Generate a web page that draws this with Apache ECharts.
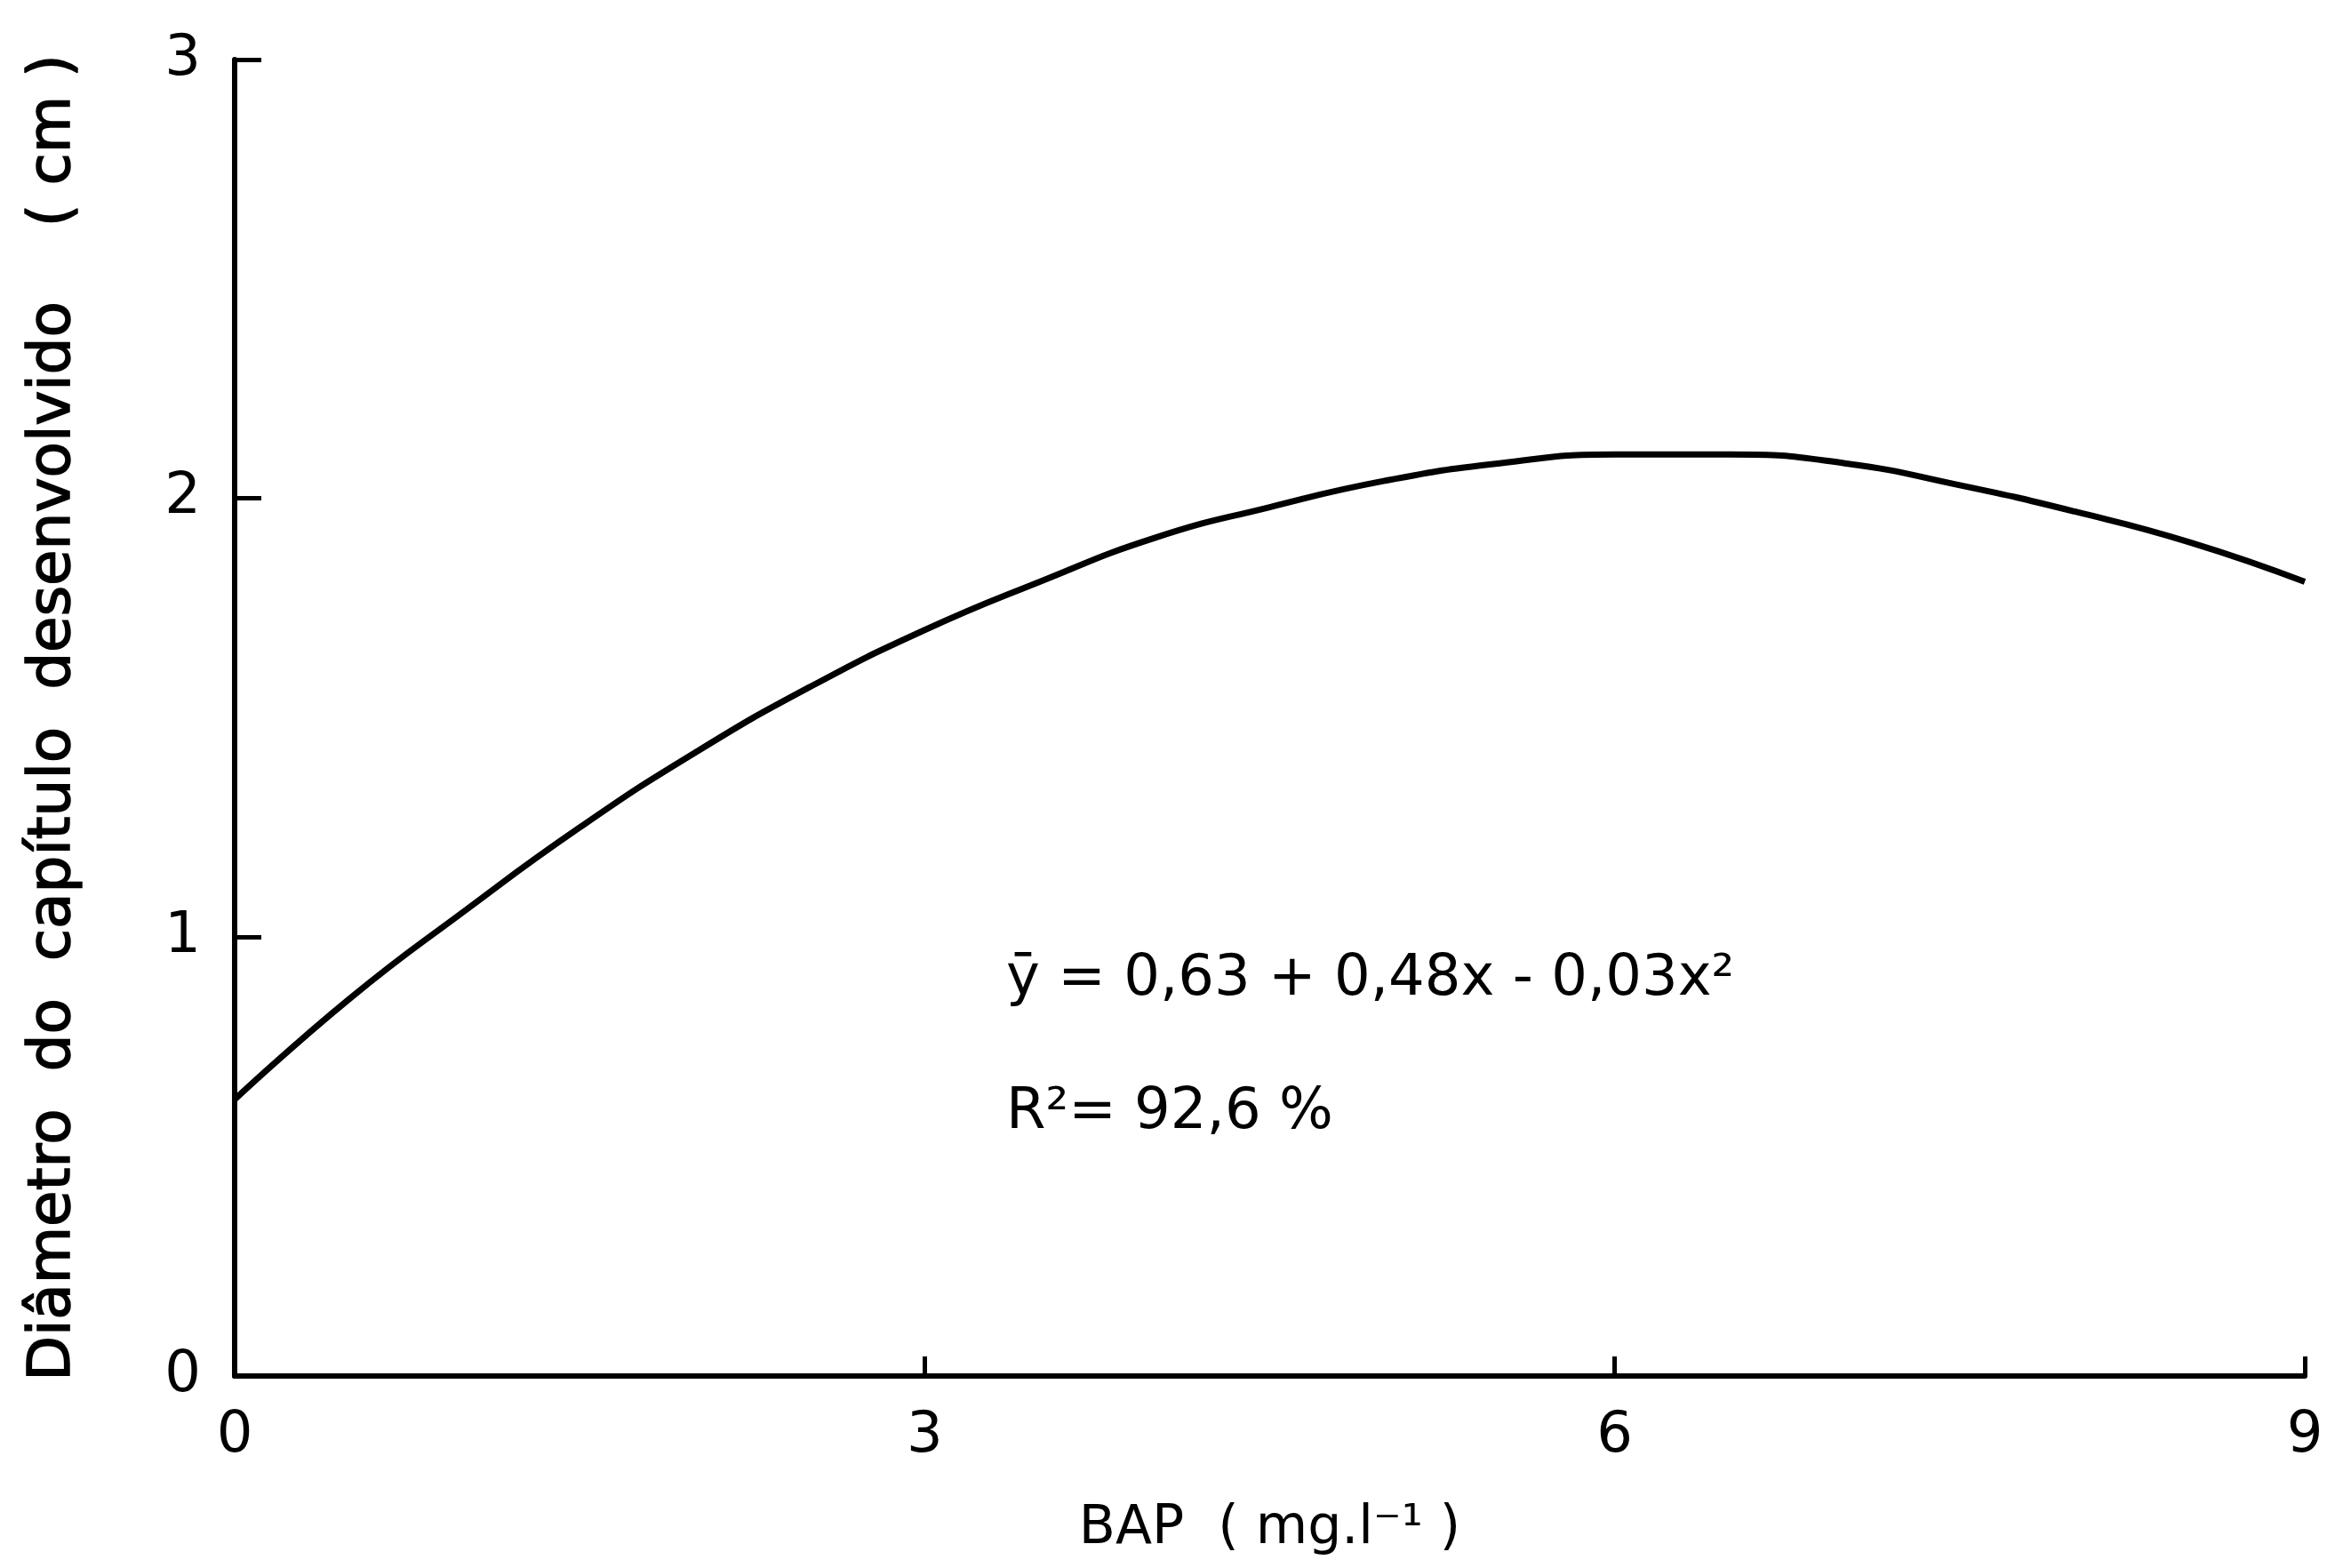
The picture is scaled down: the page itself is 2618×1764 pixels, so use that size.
<!DOCTYPE html>
<html>
<head>
<meta charset="utf-8">
<title>Diâmetro do capítulo x BAP</title>
<script src="https://cdn.jsdelivr.net/npm/echarts@6/dist/echarts.min.js"></script>
<style>
  html, body { margin: 0; padding: 0; background: #fff; }
  #chart { width: 2618px; height: 1764px; }
</style>
</head>
<body>
<div id="chart"></div>
<script>
// doses de BAP (mg.l-1) lidas no eixo x
const bapDoses = [0, 0.5, 1, 1.5, 2, 2.5, 3, 3.5, 4, 4.5, 5, 5.5, 6, 6.5, 7, 7.5, 8, 8.5, 9]
// diâmetro do capítulo (cm)
const diametro = [0.63, 0.86, 1.06, 1.25, 1.42, 1.57, 1.70, 1.81, 1.91, 1.98, 2.04, 2.08, 2.10, 2.10, 2.08, 2.03, 1.97, 1.90, 1.81]
// rótulos dos eixos
const xTicks = [0, 3, 6, 9]
const yTicks = [0, 1, 2, 3]

const equacao = 'ȳ = 0,63 + 0,48x - 0,03x²'
const r2 = 'R²= 92,6 %'

const fonte = '"DejaVu Sans", sans-serif'

const myChart = echarts.init(document.getElementById('chart'))

const option = {
  backgroundColor: '#ffffff',
  animation: false,
  grid: {
    left: 264,
    right: 25,
    top: 67,
    bottom: 216
  },
  xAxis: {
    type: 'value',
    min: xTicks[0],
    max: xTicks[xTicks.length - 1],
    interval: 3,
    name: 'BAP  ( mg.l⁻¹ )',
    nameLocation: 'middle',
    nameGap: 142,
    nameTextStyle: { color: '#000', fontFamily: fonte, fontSize: 60 },
    axisLine: { lineStyle: { color: '#000', width: 6 } },
    axisTick: { show: true, inside: true, length: 22, lineStyle: { color: '#000', width: 5 } },
    axisLabel: { color: '#000', fontFamily: fonte, fontSize: 64, margin: 36 },
    splitLine: { show: false }
  },
  yAxis: {
    type: 'value',
    min: yTicks[0],
    max: yTicks[yTicks.length - 1],
    interval: 1,
    name: 'Diâmetro  do  capítulo  desenvolvido    ( cm )',
    nameLocation: 'middle',
    nameRotate: 90,
    nameGap: 170,
    nameTextStyle: {
      color: '#000', fontFamily: fonte, fontSize: 66,
      textBorderColor: '#000', textBorderWidth: 1.5
    },
    axisLine: { lineStyle: { color: '#000', width: 6 } },
    axisTick: { show: true, inside: true, length: 30, lineStyle: { color: '#000', width: 5 } },
    axisLabel: { color: '#000', fontFamily: fonte, fontSize: 64, margin: 38 },
    splitLine: { show: false }
  },
  series: [
    {
      type: 'line',
      data: bapDoses.map((x, i) => [x, diametro[i]]),
      smooth: true,
      showSymbol: false,
      lineStyle: { color: '#000', width: 7 }
    }
  ],
  graphic: [
    {
      type: 'text',
      left: 1132,
      top: 1070,
      style: { text: equacao, fill: '#000', font: '64px ' + fonte }
    },
    {
      type: 'text',
      left: 1132,
      top: 1220,
      style: { text: r2, fill: '#000', font: '64px ' + fonte }
    }
  ]
}

option && myChart.setOption(option)
</script>
</body>
</html>
